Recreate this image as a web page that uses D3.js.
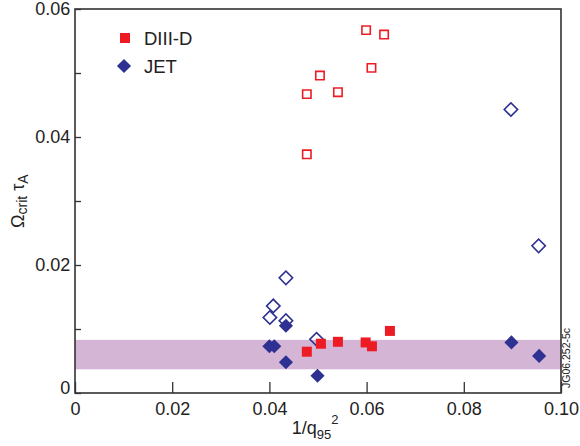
<!DOCTYPE html>
<html>
<head>
<meta charset="utf-8">
<script src="https://cdn.jsdelivr.net/npm/d3@7"></script>
<style>
    body { margin: 0; background: #fff; }
    svg text { font-family: "Liberation Sans", Arial, sans-serif; fill: #222; }
</style>
</head>
<body>
<svg id="chart" width="580" height="446"></svg>
<script>
// values: x = 1/q95^2, y = Omega_crit * tau_A
const diiidOpenX = [0.0599, 0.0636, 0.0610, 0.0504, 0.0477, 0.0541, 0.0477];
const diiidOpenY = [0.0567, 0.0560, 0.0508, 0.0496, 0.0467, 0.0470, 0.0373];
const diiidFilledX = [0.0477, 0.0506, 0.0541, 0.0598, 0.0611, 0.0648];
const diiidFilledY = [0.00645, 0.0077, 0.0080, 0.0079, 0.0073, 0.0097];
const jetOpenX = [0.0408, 0.0401, 0.0434, 0.0497, 0.0434, 0.0897, 0.0954];
const jetOpenY = [0.0136, 0.0118, 0.0113, 0.0084, 0.0180, 0.0443, 0.0230];
const jetFilledX = [0.0434, 0.0400, 0.0410, 0.0434, 0.0499, 0.0898, 0.0955];
const jetFilledY = [0.0105, 0.0073, 0.0073, 0.0048, 0.0027, 0.0079, 0.0058];
const bandRange = [0.0037, 0.0083];
const xTicks = [0, 0.02, 0.04, 0.06, 0.08, 0.10];
const xTickLabels = ["0", "0.02", "0.04", "0.06", "0.08", "0.10"];
const yTicks = [0, 0.01, 0.02, 0.03, 0.04, 0.05, 0.06];
const yTickLabels = ["0", "", "0.02", "", "0.04", "", "0.06"];
const legendNames = ["DIII-D", "JET"];

const red = "#ed1c24";
const blue = "#2e3192";

const margin = {top: 9, right: 19, bottom: 53, left: 75};
const width = 580 - margin.left - margin.right;
const height = 446 - margin.top - margin.bottom;

const svg = d3.select("#chart");
const chart = svg.append("g").attr("transform", "translate(" + margin.left + "," + margin.top + ")");

const x = d3.scaleLinear().domain([0, 0.1]).range([0, width]);
const y = d3.scaleLinear().domain([0, 0.06]).range([height, 0]);

// shaded band
chart.append("rect")
    .attr("x", 0)
    .attr("width", width)
    .attr("y", y(bandRange[1]))
    .attr("height", y(bandRange[0]) - y(bandRange[1]))
    .attr("fill", "#d4b5d5");

const square = d3.symbol().type(d3.symbolSquare);
const zip = (xs, ys) => xs.map((v, i) => [v, ys[i]]);

function drawPoints(data, size, rotate, fill, stroke) {
    chart.append("g").selectAll("path")
        .data(data)
        .enter().append("path")
        .attr("d", square.size(size)())
        .attr("transform", (d) => "translate(" + x(d[0]) + "," + y(d[1]) + ")" + (rotate ? " rotate(45)" : ""))
        .attr("fill", fill)
        .attr("stroke", stroke)
        .attr("stroke-width", stroke === "none" ? 0 : 1.6);
}

drawPoints(zip(jetOpenX, jetOpenY), 90, true, "none", blue);
drawPoints(zip(jetFilledX, jetFilledY), 100, true, blue, "none");
drawPoints(zip(diiidOpenX, diiidOpenY), 70, false, "none", red);
drawPoints(zip(diiidFilledX, diiidFilledY), 100, false, red, "none");

// axes (ticks inside)
const xAxis = d3.axisBottom(x).tickValues(xTicks).tickSize(-11).tickPadding(9)
    .tickFormat((d, i) => xTickLabels[i]);
const yAxis = d3.axisLeft(y).tickValues(yTicks).tickSize(-6).tickPadding(3)
    .tickFormat((d, i) => yTickLabels[i]);

const gx = chart.append("g").attr("transform", "translate(0," + height + ")").call(xAxis);
const gy = chart.append("g").call(yAxis);
[gx, gy].forEach((g) => {
    g.select(".domain").remove();
    g.selectAll("line").attr("stroke", "#333").attr("stroke-width", 1.3);
    g.selectAll("text").style("font-size", "18px").attr("fill", "#222");
});
gy.selectAll("text").attr("dx", "-0.1em");
// the zero label sits on the axis line rather than centred on it
gy.selectAll("text").filter((d) => d === 0).attr("dy", "0.02em");

// frame
chart.append("rect")
    .attr("width", width).attr("height", height)
    .attr("fill", "none").attr("stroke", "#333").attr("stroke-width", 1.6);

// legend
const legend = svg.append("g");
legend.append("path")
    .attr("d", square.size(100)())
    .attr("transform", "translate(125,38)")
    .attr("fill", red);
legend.append("path")
    .attr("d", square.size(100)())
    .attr("transform", "translate(124,66) rotate(45)")
    .attr("fill", blue);
legend.selectAll("text")
    .data(legendNames)
    .enter().append("text")
    .attr("x", 144)
    .attr("y", (d, i) => 45 + i * 28)
    .style("font-size", "18.5px")
    .text((d) => d);

// axis titles
const xt = svg.append("text")
    .attr("x", 315).attr("y", 434)
    .attr("text-anchor", "middle")
    .style("font-size", "18px");
xt.append("tspan").text("1/q");
xt.append("tspan").attr("dy", 5).style("font-size", "13px").text("95");
xt.append("tspan").attr("dy", -15).style("font-size", "13px").text("2");

const yt = svg.append("text")
    .attr("transform", "translate(24,228) rotate(-90)")
    .attr("text-anchor", "start")
    .style("font-size", "18px");
yt.append("tspan").text("Ω");
yt.append("tspan").attr("dy", 3).style("font-size", "14px").text("crit");
yt.append("tspan").attr("dy", -3).text(" τ");
yt.append("tspan").attr("dy", 4).style("font-size", "14px").text("A");

// figure id
svg.append("text")
    .attr("transform", "translate(570,388) rotate(-90)")
    .style("font-size", "10.5px")
    .text("JG06.252-5c");
</script>
</body>
</html>
